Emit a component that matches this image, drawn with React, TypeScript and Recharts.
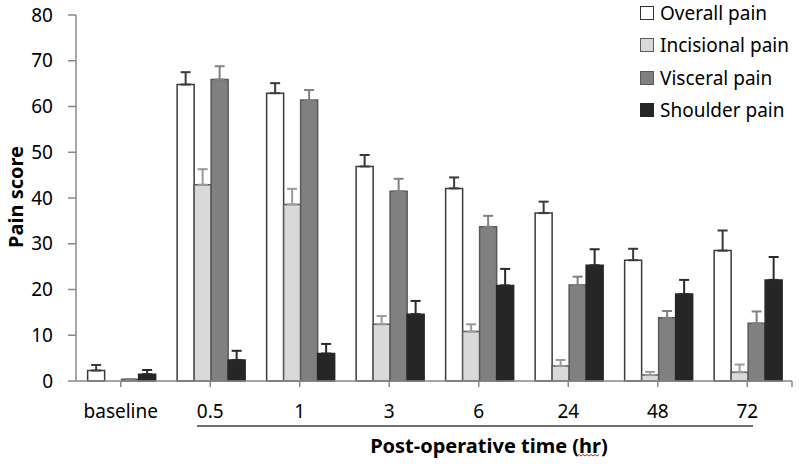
import React from "react";
import { BarChart, Bar, XAxis, YAxis, ErrorBar, Legend } from "recharts";

// time points
const categories = ["baseline", "0.5", "1", "3", "6", "24", "48", "72"];

// mean pain scores
const overall = [2.3, 64.8, 62.9, 46.9, 42.1, 36.7, 26.4, 28.5];
const incisional = [0, 42.9, 38.6, 12.4, 10.8, 3.3, 1.3, 1.9];
const visceral = [0.4, 65.9, 61.4, 41.5, 33.7, 21.0, 13.8, 12.6];
const shoulder = [1.5, 4.6, 6.0, 14.6, 20.9, 25.3, 19.0, 22.1];

// upper error (SE)
const overallErr = [1.2, 2.7, 2.2, 2.5, 2.4, 2.5, 2.5, 4.4];
const incisionalErr = [0, 3.4, 3.4, 1.8, 1.6, 1.3, 0.7, 1.7];
const visceralErr = [0, 2.9, 2.2, 2.7, 2.4, 1.8, 1.5, 2.6];
const shoulderErr = [0.9, 2.0, 2.1, 2.9, 3.6, 3.5, 3.1, 5.0];

const yTicks = [0, 10, 20, 30, 40, 50, 60, 70, 80];

const data = categories.map((name, i) => ({
  name,
  overall: overall[i],
  incisional: incisional[i],
  visceral: visceral[i],
  shoulder: shoulder[i],
  eOverall: [0, overallErr[i]],
  eIncisional: [0, incisionalErr[i]],
  eVisceral: [0, visceralErr[i]],
  eShoulder: [0, shoulderErr[i]],
}));

const series = [
  { key: "overall", err: "eOverall", name: "Overall pain", fill: "#ffffff", stroke: "#3a3a3a", errColor: "#3a3a3a" },
  { key: "incisional", err: "eIncisional", name: "Incisional pain", fill: "#d9d9d9", stroke: "#5a5a5a", errColor: "#9a9a9a" },
  { key: "visceral", err: "eVisceral", name: "Visceral pain", fill: "#808080", stroke: "#595959", errColor: "#808080" },
  { key: "shoulder", err: "eShoulder", name: "Shoulder pain", fill: "#262626", stroke: "#262626", errColor: "#2a2a2a" },
];

const FONT = "'Noto Sans', sans-serif";
const AXIS = "#888888";

function LegendBox() {
  return (
    <div style={{ fontFamily: FONT, fontSize: 19, color: "#000" }}>
      {series.map((s) => (
        <div key={s.key} style={{ display: "flex", alignItems: "center", height: 32.3 }}>
          <span
            style={{
              display: "inline-block",
              width: 12,
              height: 12,
              background: s.fill,
              border: `1px solid ${s.key === "overall" ? "#333" : s.stroke}`,
              marginRight: 6,
            }}
          />
          <span>{s.name}</span>
        </div>
      ))}
    </div>
  );
}

export default function App() {
  return (
    <div style={{ position: "absolute", left: 0, top: 0, width: 799, height: 464, background: "#fff" }}>
      <BarChart
        width={799}
        height={464}
        data={data}
        margin={{ top: 15, right: 7, left: 0, bottom: 0 }}
        barCategoryGap="13%"
        barGap={0}
      >
        <XAxis
          dataKey="name"
          height={83}
          axisLine={{ stroke: AXIS, strokeWidth: 1.5 }}
          tickLine={{ stroke: AXIS, strokeWidth: 1.5 }}
          tickSize={6}
          tickMargin={18}
          tick={{ fontSize: 19, fill: "#000", fontFamily: FONT }}
          interval={0}
        />
        <YAxis
          width={76}
          domain={[0, 80]}
          ticks={yTicks}
          axisLine={{ stroke: AXIS, strokeWidth: 1.5 }}
          tickLine={{ stroke: AXIS, strokeWidth: 1.5 }}
          tickSize={8}
          tickMargin={15}
          tick={{ fontSize: 19, fill: "#000", fontFamily: FONT }}
        />
        <Legend
          layout="vertical"
          align="center"
          verticalAlign="middle"
          wrapperStyle={{ left: 640, top: -3, width: 159 }}
          content={() => <LegendBox />}
        />
        {series.map((s) => (
          <Bar
            key={s.key}
            dataKey={s.key}
            name={s.name}
            fill={s.fill}
            stroke={s.stroke}
            strokeWidth={1.5}
            isAnimationActive={false}
          >
            <ErrorBar dataKey={s.err} width={5} stroke={s.errColor} strokeWidth={2} direction="y" />
          </Bar>
        ))}
      </BarChart>
      <svg
        width={799}
        height={464}
        style={{ position: "absolute", left: 0, top: 0, pointerEvents: "none" }}
      >
        <line x1={792} y1={381} x2={792} y2={387} stroke={AXIS} strokeWidth={1.5} />
        <text
          transform="translate(23,197) rotate(-90)"
          textAnchor="middle"
          fontFamily={FONT}
          fontWeight="bold"
          fontSize={20}
          fill="#000"
        >
          Pain score
        </text>
        <line x1={197} y1={426} x2={753} y2={426} stroke="#404040" strokeWidth={1.5} />
        <text x={489} y={453} textAnchor="middle" fontFamily={FONT} fontWeight="bold" fontSize={20} fill="#000">
          Post-operative time (hr)
        </text>
        <path
          d="M577 456 l2 -1.5 l2 1.5 l2 -1.5 l2 1.5 l2 -1.5 l2 1.5 l2 -1.5 l2 1.5 l2 -1.5 l2 1.5 l2 -1.5"
          fill="none"
          stroke="#d02020"
          strokeWidth={1}
        />
      </svg>
    </div>
  );
}
